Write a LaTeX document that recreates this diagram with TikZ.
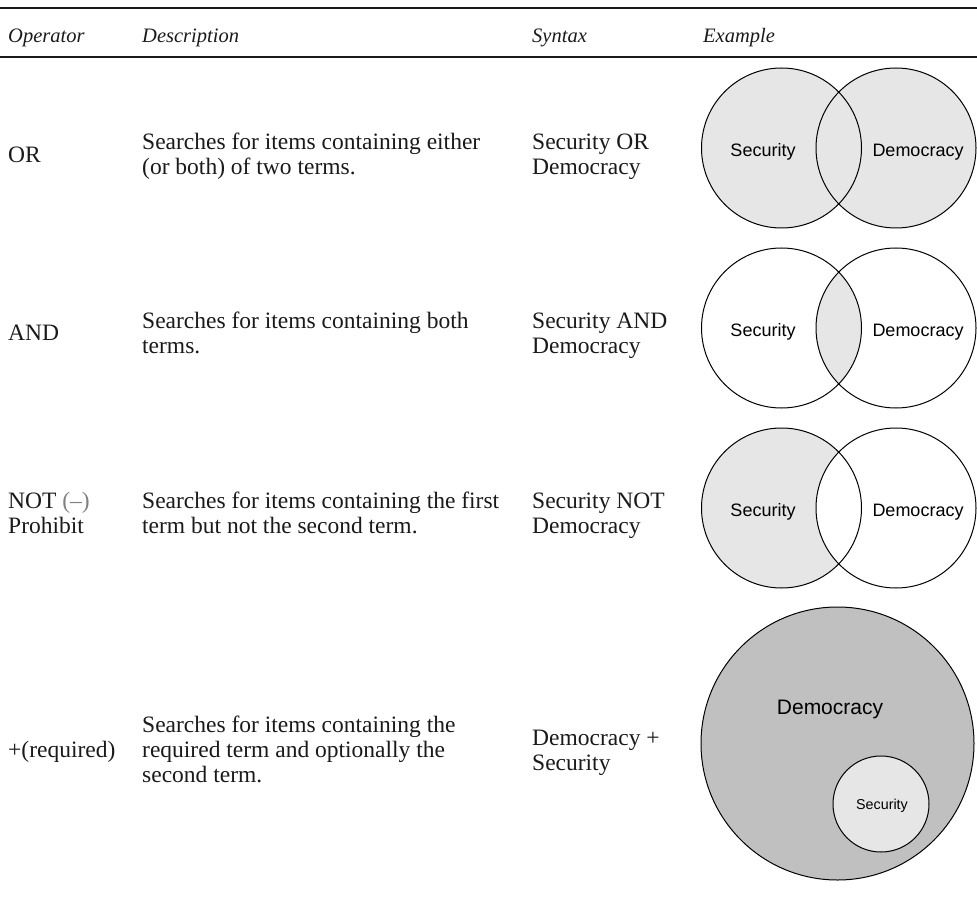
\documentclass[tikz,border=0pt]{standalone}
\usepackage{fontspec}
\setmainfont{Liberation Serif}
\newfontfamily\vennfont{Liberation Sans}
\definecolor{ink}{HTML}{1A1A1A}
\definecolor{dashgray}{HTML}{808080}
\definecolor{shadelight}{HTML}{E6E6E6}
\definecolor{shadedark}{HTML}{C0C0C0}
\begin{document}
\begin{tikzpicture}[x=1pt,y=-1pt,
  % multi-line cells are placed by the baseline of their last line
  cell/.style={anchor=base west, inner sep=0pt, align=left, text=ink,
               font=\fontsize{23.5}{25}\selectfont},
  head/.style={anchor=base west, inner sep=0pt, text=ink,
               font=\fontsize{20.5}{24}\selectfont\itshape},
  venntext/.style={anchor=base, inner sep=0pt, text=black,
                   font=\vennfont\fontsize{18}{20}\selectfont},
  ring/.style={draw=black, line width=1pt},
  rule/.style={draw=ink}]
\useasboundingbox (0,0) rectangle (977,901);

% table rules
\coordinate (topL) at (0,8);   \coordinate (topR) at (977,8);
\coordinate (headL) at (0,57); \coordinate (headR) at (977,57);
\draw[rule, line width=2pt] (topL) -- (topR);
\draw[rule, line width=1.4pt] (headL) -- (headR);

% header
\node[head] (hOp)   at (8,43)   {Operator};
\node[head] (hDesc) at (142,43) {Description};
\node[head] (hSyn)  at (532,43) {Syntax};
\node[head] (hEx)   at (703,43) {Example};

% row 1: OR
\node[cell] (opOr)   at (8,162.5) {OR};
\node[cell] (descOr) at (142,175) {Searches for items containing either\\(or both) of two terms.};
\node[cell] (synOr)  at (532,175) {Security OR\\Democracy};

% row 2: AND
\node[cell] (opAnd)   at (8,341) {AND};
\node[cell] (descAnd) at (142,353) {Searches for items containing both\\terms.};
\node[cell] (synAnd)  at (532,353) {Security AND\\Democracy};

% row 3: NOT
\node[cell] (opNot)   at (8,533) {NOT {\color{dashgray}(–)}\\Prohibit};
\node[cell] (descNot) at (142,533) {Searches for items containing the first\\term but not the second term.};
\node[cell] (synNot)  at (532,533) {Security NOT\\Democracy};

% row 4: required
\node[cell] (opReq)   at (8,757) {+(required)};
\node[cell] (descReq) at (142,782) {Searches for items containing the\\required term and optionally the\\second term.};
\node[cell] (synReq)  at (532,770) {Democracy +\\Security};

% Venn centres
\def\rad{80}
\coordinate (orL)  at (781.5,148); \coordinate (orR)  at (896,148);
\coordinate (andL) at (781.5,328); \coordinate (andR) at (896,328);
\coordinate (notL) at (781.5,508); \coordinate (notR) at (896,508);
\coordinate (big)  at (837.5,743.5);
\coordinate (small) at (881,804);

% OR: union shaded
\fill[shadelight] (orL) circle (\rad);
\fill[shadelight] (orR) circle (\rad);
\draw[ring] (orL) circle (\rad);
\draw[ring] (orR) circle (\rad);
\node[venntext] (orSec) at (763,156.5) {Security};
\node[venntext] (orDem) at (918,156.5) {Democracy};

% AND: intersection shaded
\begin{scope}
  \clip (andL) circle (\rad);
  \fill[shadelight] (andR) circle (\rad);
\end{scope}
\draw[ring] (andL) circle (\rad);
\draw[ring] (andR) circle (\rad);
\node[venntext] (andSec) at (763,336) {Security};
\node[venntext] (andDem) at (918,336) {Democracy};

% NOT: first set minus second
\fill[shadelight] (notL) circle (\rad);
\begin{scope}
  \clip (notL) circle (\rad);
  \fill[white] (notR) circle (\rad);
\end{scope}
\draw[ring] (notL) circle (\rad);
\draw[ring] (notR) circle (\rad);
\node[venntext] (notSec) at (763,516) {Security};
\node[venntext] (notDem) at (918,516) {Democracy};

% required: subset inside the required term
\filldraw[ring, fill=shadedark] (big) circle (136.5);
\filldraw[ring, fill=shadelight] (small) circle (48);
\node[venntext, font=\vennfont\fontsize{21}{24}\selectfont] (reqDem) at (830,714) {Democracy};
\node[venntext, font=\vennfont\fontsize{14.3}{16}\selectfont] (reqSec) at (882,809) {Security};
\end{tikzpicture}
\end{document}
